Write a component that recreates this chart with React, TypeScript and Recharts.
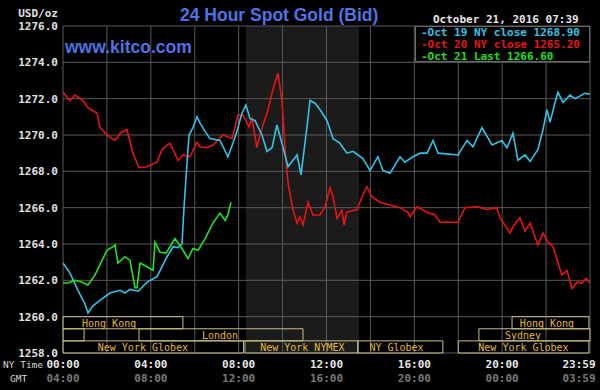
import React from 'react';
import { LineChart, Line, XAxis, YAxis, CartesianGrid, ReferenceArea, ReferenceDot } from 'recharts';

// Oct 19 (cyan) - NY time in hours
const oct19Times = [0,0.32,0.68,1.00,1.14,1.37,1.68,2.14,2.60,2.82,3.05,3.42,3.83,4.28,4.74,5.01,5.24,5.42,5.51,5.65,5.74,5.92,6.10,6.24,6.47,6.69,7.15,7.51,7.74,7.92,8.15,8.33,8.52,8.74,9.06,9.29,9.52,9.74,9.97,10.25,10.66,10.84,11.11,11.25,11.48,11.70,12.02,12.30,12.61,12.93,13.21,13.66,13.98,14.34,14.57,14.89,15.35,15.57,15.94,16.26,16.58,16.85,17.08,17.99,18.40,18.67,19.08,19.54,19.99,20.22,20.49,20.72,21.04,21.27,21.63,21.86,22.04,22.18,22.40,22.54,22.77,23.09,23.32,23.77,24.00];
const oct19Values = [1262.95,1262.4,1261.45,1260.7,1260.2,1260.6,1260.9,1261.3,1261.45,1261.3,1261.5,1261.4,1261.9,1262.2,1263.3,1263.85,1263.8,1264.0,1266.0,1268.5,1270.0,1270.4,1271.0,1270.65,1270.2,1269.8,1269.7,1268.8,1269.55,1270.2,1271.2,1271.65,1270.9,1270.8,1270.0,1269.1,1269.3,1270.55,1269.55,1268.25,1268.9,1267.8,1270.45,1271.9,1271.75,1271.4,1270.8,1269.8,1269.55,1269.0,1269.1,1268.7,1268.05,1268.8,1268.05,1267.9,1268.8,1268.5,1268.8,1269.0,1269.0,1269.7,1269.0,1268.9,1269.7,1269.35,1270.4,1269.45,1269.7,1269.3,1270.1,1268.6,1268.9,1268.55,1269.2,1270.3,1271.4,1270.7,1271.75,1272.35,1271.8,1272.2,1272.0,1272.3,1272.25];

// Oct 20 (red)
const oct20Times = [0,0.32,0.55,0.91,1.14,1.55,1.68,2.00,2.37,2.60,2.91,3.19,3.46,3.83,4.28,4.51,4.87,5.24,5.46,5.78,6.10,6.24,6.56,6.83,7.29,7.70,7.97,8.20,8.47,8.61,8.83,8.97,9.11,9.34,9.56,9.79,9.97,10.15,10.25,10.47,10.66,10.79,10.93,11.16,11.38,11.70,11.93,12.16,12.30,12.48,12.70,12.80,12.93,13.39,13.62,13.84,14.07,14.44,14.89,15.35,15.71,15.80,16.12,16.58,16.94,17.17,17.99,18.31,18.90,19.31,19.76,19.90,20.36,20.49,20.81,21.04,21.27,21.63,21.86,22.09,22.31,22.72,22.95,23.18,23.41,23.63,23.82,24.00];
const oct20Values = [1272.35,1271.9,1272.2,1271.9,1271.5,1271.2,1270.45,1270.0,1269.7,1270.1,1270.3,1269.0,1268.2,1268.25,1268.5,1269.2,1269.55,1268.6,1268.9,1268.8,1269.6,1269.35,1269.3,1269.45,1270.0,1269.8,1271.1,1271.1,1270.45,1270.9,1269.3,1270.0,1270.55,1271.4,1272.5,1273.4,1271.9,1268.6,1267.35,1265.9,1265.15,1265.5,1265.05,1266.3,1265.6,1265.6,1266.05,1267.1,1266.6,1265.4,1265.85,1265.05,1265.75,1265.9,1266.6,1267.15,1266.6,1266.3,1266.15,1266.0,1265.75,1265.5,1266.05,1265.75,1265.6,1265.2,1265.2,1266.0,1266.05,1265.9,1266.0,1265.45,1264.6,1264.95,1265.45,1264.7,1265.15,1263.95,1264.6,1264.1,1263.85,1262.3,1262.55,1261.55,1261.9,1261.85,1262.1,1261.85];

// Oct 21 (green)
const oct21Times = [0,0.23,0.55,0.87,1.14,1.46,1.78,2.00,2.28,2.37,2.50,2.82,3.05,3.28,3.37,3.51,3.83,4.10,4.19,4.42,4.69,5.10,5.42,5.69,5.92,6.15,6.47,6.83,7.15,7.38,7.51,7.65];
const oct21Values = [1261.85,1261.85,1262.0,1261.9,1261.75,1262.3,1263.1,1263.65,1263.85,1263.95,1262.95,1263.3,1263.1,1261.6,1261.6,1262.95,1262.75,1262.55,1264.1,1263.55,1263.5,1264.3,1263.75,1263.2,1263.75,1263.65,1264.3,1265.15,1265.7,1265.3,1265.6,1266.3];

const yTicks = [1258,1260,1262,1264,1266,1268,1270,1272,1274,1276];
const xTicks = [0,2,4,6,8,10,12,14,16,18,20,22,24];
const nyLabels: Record<number, string> = { 0: '00:00', 4: '04:00', 8: '08:00', 12: '12:00', 16: '16:00', 20: '20:00', 24: '23:59' };
const gmtLabels: Record<number, string> = { 0: '04:00', 4: '08:00', 8: '12:00', 12: '16:00', 16: '20:00', 20: '00:00', 24: '03:59' };

const legendItems = [
  { label: 'Oct 19 NY close 1268.90', color: '#33c3e6' },
  { label: 'Oct 20 NY close 1265.20', color: '#e81414' },
  { label: 'Oct 21 Last 1266.60', color: '#22e022' },
];

// NYMEX trading hours (shaded), NY time
const nymexShade = [0, 8.33, 13.5, 24];

const rowBounds: Record<number, [number, number]> = {
  1: [1259.333, 1260],
  2: [1258.667, 1259.333],
  3: [1258, 1258.667],
};

const sessions = [
  { name: 'Hong Kong', row: 1, start: 0, end: 5.46, labelAt: 2.1 },
  { name: 'Hong Kong', row: 1, start: 20.45, end: 23.95, labelAt: 22.04 },
  { name: '', row: 2, start: 0, end: 0.96, labelAt: 0.5 },
  { name: 'London', row: 2, start: 3.46, end: 10.93, labelAt: 7.15 },
  { name: 'Sydney', row: 2, start: 18.94, end: 24, labelAt: 20.95 },
  { name: 'New York Globex', row: 3, start: 0, end: 8.22, labelAt: 3.64 },
  { name: 'New York NYMEX', row: 3, start: 8.29, end: 13.43, labelAt: 10.9 },
  { name: 'NY Globex', row: 3, start: 13.43, end: 17.3, labelAt: 15.19 },
  { name: 'New York Globex', row: 3, start: 18.0, end: 23.95, labelAt: 20.97 },
];

const toSeries = (ts: number[], vs: number[]) => ts.map((t, i) => ({ t, v: vs[i] }));
const s19 = toSeries(oct19Times, oct19Values);
const s20 = toSeries(oct20Times, oct20Values);
const s21 = toSeries(oct21Times, oct21Values);

const MONO = '"DejaVu Sans Mono", "Liberation Mono", monospace';
const SANS = '"Liberation Sans", Arial, sans-serif';

const XTick = (props: any) => {
  const { x, payload } = props;
  const v = payload.value;
  const ny = nyLabels[v];
  if (!ny) return null;
  const dx = v === 24 ? -11 : 0;
  return (
    <g>
      <text x={x + dx} y={368} textAnchor="middle" fill="#e6e6e6" fontFamily={MONO} fontSize={11} fontWeight="bold">{ny}</text>
      <text x={x + dx} y={382} textAnchor="middle" fill="#7a7a7a" fontFamily={MONO} fontSize={11} fontWeight="bold">{gmtLabels[v]}</text>
    </g>
  );
};

const YTick = (props: any) => {
  const { x, y, payload } = props;
  return (
    <text x={x} y={y + 4} textAnchor="end" fill="#e0e0e0" fontFamily={MONO} fontSize={11} fontWeight="bold">
      {payload.value.toFixed(1)}
    </text>
  );
};

export default function App() {
  return (
    <div style={{ position: 'fixed', left: 0, top: 0, width: 600, height: 390, background: '#000', overflow: 'hidden' }}>
      <div style={{ position: 'absolute', left: 0, top: 0 }}>
        <LineChart width={600} height={390} margin={{ top: 26, right: 10, bottom: 0, left: 0 }}>
          <CartesianGrid
            horizontal={false}
            stroke="#000"
            strokeOpacity={0}
            verticalValues={nymexShade}
            verticalFill={['#000000', '#1b1b1b', '#000000']}
            fillOpacity={1}
          />
          <CartesianGrid stroke="#5a5a5a" strokeWidth={1} horizontalValues={yTicks} verticalValues={xTicks} />
          <XAxis
            dataKey="t"
            type="number"
            domain={[0, 24]}
            ticks={xTicks}
            interval={0}
            axisLine={false}
            tickLine={false}
            tickSize={0}
            height={37}
            tick={<XTick />}
            allowDataOverflow
          />
          <YAxis
            type="number"
            domain={[1258, 1276]}
            ticks={yTicks}
            interval={0}
            axisLine={false}
            tickLine={false}
            tickSize={0}
            tickMargin={5}
            width={63}
            tick={<YTick />}
            allowDataOverflow
          />
          {sessions.map((s, i) => (
            <ReferenceArea
              key={'sa' + i}
              x1={s.start}
              x2={s.end}
              y1={rowBounds[s.row][0]}
              y2={rowBounds[s.row][1]}
              fill="none"
              fillOpacity={0}
              stroke="#c8c08a"
              strokeWidth={1}
              ifOverflow="visible"
            />
          ))}
          {sessions.filter((s) => s.name).map((s, i) => (
            <ReferenceDot
              key={'sl' + i}
              x={s.labelAt}
              y={(rowBounds[s.row][0] + rowBounds[s.row][1]) / 2}
              r={0}
              ifOverflow="visible"
              shape={(p: any) => (
                <text x={p.cx} y={p.cy + 3.8} textAnchor="middle" fill="#e2b83a" fontFamily={MONO} fontSize={10}>
                  {s.name}
                </text>
              )}
            />
          ))}
          <Line data={s20} dataKey="v" type="linear" stroke="#e81414" strokeWidth={1.6} dot={false} isAnimationActive={false} />
          <Line data={s19} dataKey="v" type="linear" stroke="#33c3e6" strokeWidth={1.6} dot={false} isAnimationActive={false} />
          <Line data={s21} dataKey="v" type="linear" stroke="#22e022" strokeWidth={1.6} dot={false} isAnimationActive={false} />
        </LineChart>
      </div>
      <svg width={600} height={390} style={{ position: 'absolute', left: 0, top: 0, pointerEvents: 'none' }}>
        <text x={58} y={17} textAnchor="end" fill="#e0e0e0" fontFamily={MONO} fontSize={11} fontWeight="bold">USD/oz</text>
        <text x={180} y={20.5} fill="#4f74e2" fontFamily={SANS} fontSize={17.5} fontWeight="bold">24 Hour Spot Gold (Bid)</text>
        <text x={65} y={53} fill="#4f74e2" fontFamily={SANS} fontSize={17.5} fontWeight="bold">www.kitco.com</text>
        <text x={433} y={23} fill="#e6e6e6" fontFamily={MONO} fontSize={11} fontWeight="bold">October 21, 2016 07:39</text>
        <rect x={415.5} y={26.5} width={174} height={35} fill="#000" stroke="#6a6a6a" strokeWidth={1} />
        {legendItems.map((it, i) => (
          <text key={i} x={421} y={36 + i * 12} fill={it.color} fontFamily={MONO} fontSize={11} fontWeight="bold">
            {'-' + it.label}
          </text>
        ))}
        <text x={3} y={368} fill="#d8d8d8" fontFamily={MONO} fontSize={9.5}>NY Time</text>
        <text x={10} y={382} fill="#d8d8d8" fontFamily={MONO} fontSize={9.5}>GMT</text>
      </svg>
    </div>
  );
}
